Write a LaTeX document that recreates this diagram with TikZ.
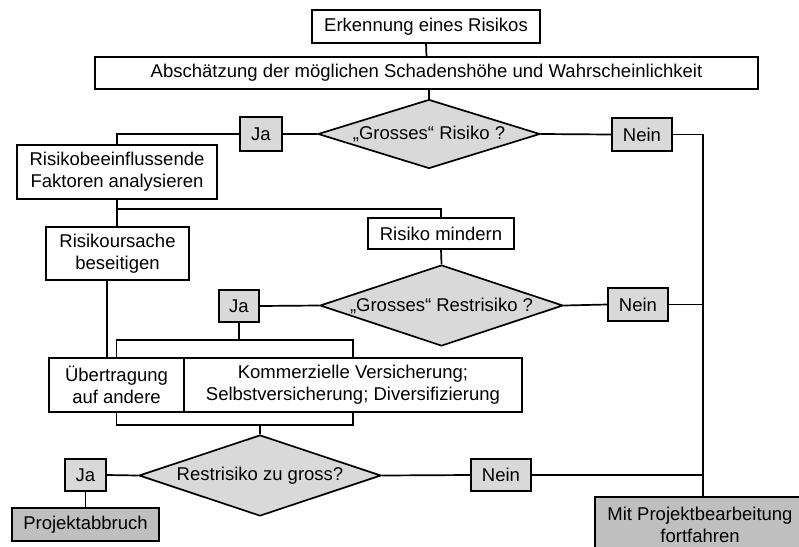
\documentclass[tikz,border=0pt]{standalone}
\usepackage{fontspec}
\setmainfont{Liberation Sans}
\usetikzlibrary{shapes.geometric,calc}
\definecolor{lightfill}{gray}{0.85}
\definecolor{darkfill}{gray}{0.75}
\tikzset{
  box/.style={draw=black,line width=1.7pt,fill=white,rectangle,inner sep=0pt,align=center,
    font=\fontsize{18.5}{22}\selectfont},
  tag/.style={box,fill=lightfill},
  endbox/.style={box,fill=darkfill},
  dec/.style={draw=black,line width=1.7pt,fill=lightfill,diamond,inner sep=0pt,aspect=3,
    font=\fontsize{18.5}{22}\selectfont},
  conn/.style={line width=1.7pt,draw=black}
}
\begin{document}
\begin{tikzpicture}[x=1pt,y=-1pt]
\useasboundingbox (0,0) rectangle (799,546);
\clip (0,0) rectangle (799,546);
\node[box,minimum width=228,minimum height=33] (erk) at (426,26.5) {Erkennung eines Risikos};
\node[box,minimum width=663,minimum height=32] (abs) at (426.5,73) {Abschätzung der möglichen Schadenshöhe und Wahrscheinlichkeit};
\node[dec,minimum width=222,minimum height=69,aspect=3.2] (d1) at (429,134) {„Grosses“ Risiko ?};
\node[tag,minimum width=42,minimum height=34] (ja1) at (261,134) {Ja};
\node[tag,minimum width=60,minimum height=33] (nein1) at (642,134.5) {Nein};
\node[box,minimum width=200,minimum height=54] (risb) at (117,172) {Risikobeeinflussende\\Faktoren analysieren};
\node[box,minimum width=143,minimum height=53] (riso) at (117.5,253.5) {Risikoursache\\beseitigen};
\node[box,minimum width=146,minimum height=31] (mind) at (441,233.5) {Risiko mindern};
\node[dec,minimum width=243,minimum height=81] (d2) at (441.5,305.5) {„Grosses“ Restrisiko ?};
\node[tag,minimum width=40,minimum height=32] (ja2) at (239,306) {Ja};
\node[tag,minimum width=60,minimum height=33] (nein2) at (638,304.5) {Nein};
\node[box,minimum width=135,minimum height=54] (ueb) at (116.5,385) {Übertragung\\auf andere};
\node[box,minimum width=338,minimum height=54] (kom) at (353,385) {Kommerzielle Versicherung;\\Selbstversicherung; Diversifizierung};
\node[dec,minimum width=242,minimum height=81] (d3) at (260,475.5) {Restrisiko zu gross?};
\node[tag,minimum width=41,minimum height=32] (ja3) at (85.5,475) {Ja};
\node[tag,minimum width=60,minimum height=32] (nein3) at (501,475) {Nein};
\node[endbox,minimum width=147,minimum height=33] (abbr) at (85.5,524.5) {Projektabbruch};
\node[endbox,minimum width=210,minimum height=56] (mit) at (700,525) {Mit Projektbearbeitung\\fortfahren};
\coordinate (rail) at (703,134);
\coordinate (br1) at (117,209);
\coordinate (br2) at (117,340);
\coordinate (br3) at (117,425);
% connectors
\draw[conn] (erk.south) -- (abs.north);
\draw[conn] (d1.north |- abs.south) -- (d1.north);
\draw[conn] (d1.west) -- (ja1.east);
\draw[conn] (ja1.west) -| (risb.north);
\draw[conn] (d1.east) -- (nein1.west);
\draw[conn] (nein1.east) -| (rail |- mit.north);
\draw[conn] (risb.south) -- (risb.south |- riso.north);
\draw[conn] (risb.south |- br1) -| (mind.north);
\draw[conn] (mind.south) -- (d2.north);
\draw[conn] (d2.west) -- (ja2.east);
\draw[conn] (d2.east) -- (nein2.west);
\draw[conn] (nein2.east) -- (rail |- nein2.east);
\draw[conn] (ja2.south) -- (ja2.south |- br2);
\draw[conn] (ueb.north) -- (ueb.north |- br2) -- (kom.north |- br2) -- (kom.north);
\draw[conn] ([xshift=-10.5pt]riso.south) -- ([xshift=-10.5pt]riso.south |- ueb.north);
\draw[conn] (ueb.south) -- (ueb.south |- br3) -- (kom.south |- br3) -- (kom.south);
\draw[conn] (d3.north |- br3) -- (d3.north);
\draw[conn] (d3.west) -- (ja3.east);
\draw[conn] (ja3.south) -- (abbr.north);
\draw[conn] (d3.east) -- (nein3.west);
\draw[conn] (nein3.east) -- (rail |- nein3.east);
\end{tikzpicture}
\end{document}
